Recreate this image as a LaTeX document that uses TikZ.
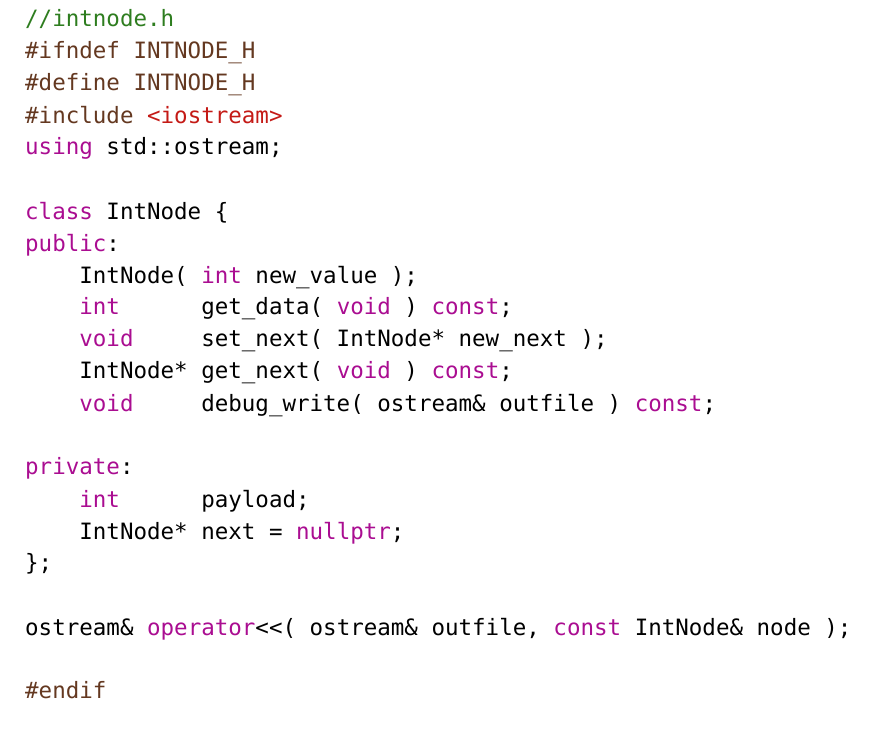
\documentclass[tikz,border=0pt]{standalone}
\usepackage{fontspec}
\setmonofont{DejaVu Sans Mono}
\definecolor{kwc}{HTML}{AA0D91}
\definecolor{ppc}{HTML}{643820}
\definecolor{cmc}{HTML}{2E7D1F}
\definecolor{stc}{HTML}{C41A16}
\newcommand{\Kw}[1]{\textcolor{kwc}{#1}}
\newcommand{\Pp}[1]{\textcolor{ppc}{#1}}
\newcommand{\Cm}[1]{\textcolor{cmc}{#1}}
\newcommand{\Str}[1]{\textcolor{stc}{#1}}
\begin{document}
\begin{tikzpicture}[x=1pt,y=1pt,
  codeline/.style={anchor=west,inner sep=0pt,font=\ttfamily\fontsize{22.5}{24}\selectfont}]
\useasboundingbox (0,0) rectangle (892,732);
\def\L#1#2#3{\node[codeline] (#1) at (25,{728-#2}) {\strut #3};}
\L{l0}{18}{\Cm{//intnode.h}}
\L{l1}{50}{\Pp{\#ifndef INTNODE\_H}}
\L{l2}{82}{\Pp{\#define INTNODE\_H}}
\L{l3}{114}{\Pp{\#include} \Str{<iostream>}}
\L{l4}{146}{\Kw{using} std::ostream;}
\L{l6}{210}{\Kw{class} IntNode \{}
\L{l7}{242}{\Kw{public}:}
\L{l8}{274}{\ \ \ \ IntNode( \Kw{int} new\_value );}
\L{l9}{306}{\ \ \ \ \Kw{int}\ \ \ \ \ \ get\_data( \Kw{void} ) \Kw{const};}
\L{l10}{338}{\ \ \ \ \Kw{void}\ \ \ \ \ set\_next( IntNode* new\_next );}
\L{l11}{370}{\ \ \ \ IntNode* get\_next( \Kw{void} ) \Kw{const};}
\L{l12}{402}{\ \ \ \ \Kw{void}\ \ \ \ \ debug\_write( ostream\& outfile ) \Kw{const};}
\L{l14}{466}{\Kw{private}:}
\L{l15}{498}{\ \ \ \ \Kw{int}\ \ \ \ \ \ payload;}
\L{l16}{530}{\ \ \ \ IntNode* next = \Kw{nullptr};}
\L{l17}{562}{\};}
\L{l19}{626}{ostream\& \Kw{operator}<<( ostream\& outfile, \Kw{const} IntNode\& node );}
\L{l21}{690}{\Pp{\#endif}}
\end{tikzpicture}
\end{document}
